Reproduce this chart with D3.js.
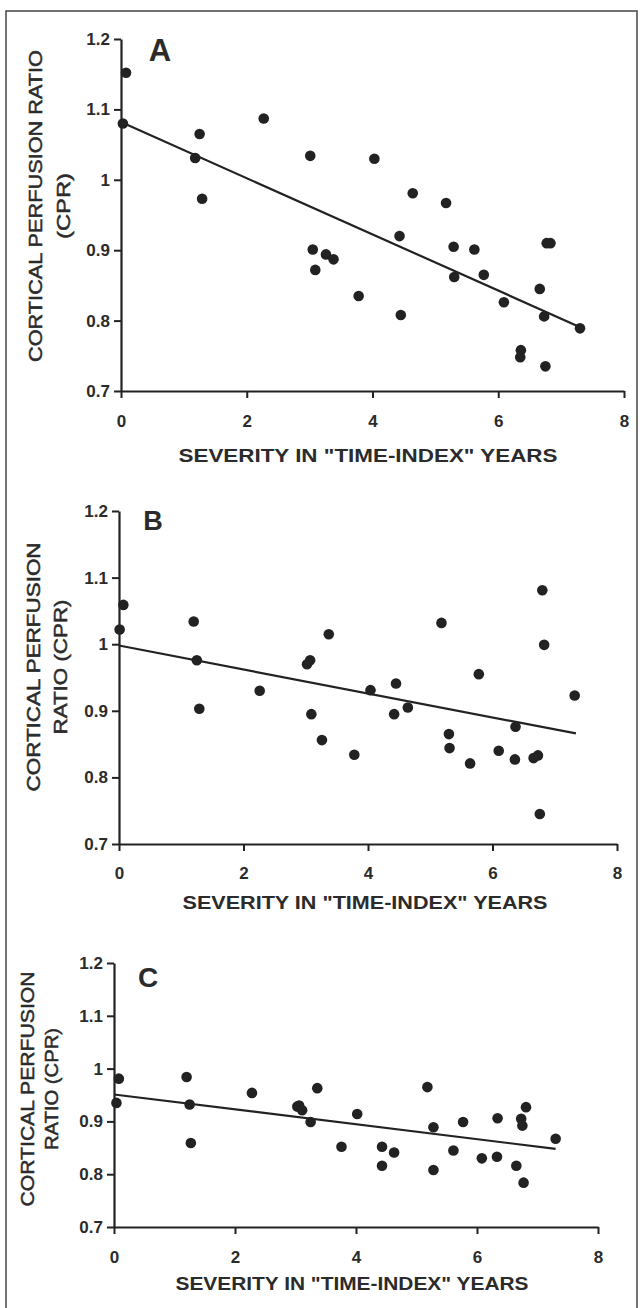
<!DOCTYPE html>
<html lang="en">
<meta charset="utf-8">
<head>
    <script src="https://d3js.org/d3.v7.min.js"></script>
    <style>
        body { margin: 0; background: #fff; }
        text { font-family: "Liberation Sans", Arial, sans-serif; fill: #2b2b2b; }
    </style>
</head>
<body>
<svg id="fig" width="642" height="1308"></svg>

<script>
// Values (severity in "time-index" years vs cortical perfusion ratio)
const severityA = [0.08, 0.03, 1.25, 1.18, 1.29, 2.27, 3.01, 3.05, 3.09, 3.26, 3.38, 3.78, 4.03, 4.43, 4.45, 4.64, 5.17, 5.29, 5.30, 5.62, 5.77, 6.09, 6.36, 6.35, 6.66, 6.73, 6.75, 6.77, 6.83, 7.30];
const cprA      = [1.152, 1.080, 1.065, 1.031, 0.973, 1.087, 1.034, 0.901, 0.872, 0.894, 0.887, 0.835, 1.030, 0.920, 0.808, 0.981, 0.967, 0.905, 0.862, 0.901, 0.865, 0.826, 0.758, 0.748, 0.845, 0.806, 0.735, 0.910, 0.910, 0.789];
const fitA      = [[0, 1.082], [7.32, 0.790]];

const severityB = [0.07, 0.01, 1.20, 1.25, 1.29, 2.26, 3.02, 3.07, 3.09, 3.26, 3.37, 3.78, 4.04, 4.45, 4.42, 4.64, 5.18, 5.30, 5.31, 5.64, 5.78, 6.10, 6.37, 6.36, 6.66, 6.73, 6.80, 6.76, 6.83, 7.32];
const cprB      = [1.059, 1.022, 1.034, 0.976, 0.903, 0.930, 0.970, 0.976, 0.895, 0.856, 1.015, 0.834, 0.931, 0.941, 0.895, 0.905, 1.032, 0.865, 0.844, 0.821, 0.955, 0.840, 0.876, 0.827, 0.829, 0.833, 1.081, 0.745, 0.999, 0.923];
const fitB      = [[0, 0.998], [7.34, 0.866]];

const severityC = [0.08, 0.04, 1.20, 1.25, 1.27, 2.28, 3.03, 3.06, 3.11, 3.25, 3.36, 3.76, 4.02, 4.43, 4.43, 4.63, 5.18, 5.28, 5.28, 5.61, 5.77, 6.08, 6.34, 6.33, 6.65, 6.73, 6.75, 6.81, 6.77, 7.30];
const cprC      = [0.981, 0.935, 0.984, 0.932, 0.859, 0.954, 0.928, 0.930, 0.921, 0.899, 0.963, 0.852, 0.914, 0.852, 0.816, 0.841, 0.965, 0.889, 0.808, 0.845, 0.899, 0.830, 0.906, 0.833, 0.816, 0.905, 0.892, 0.927, 0.784, 0.867];
const fitC      = [[0, 0.951], [7.30, 0.848]];

const xTicks = [0, 2, 4, 6, 8];
const yTicks = [0.7, 0.8, 0.9, 1, 1.1, 1.2];
const xTitle = 'SEVERITY IN "TIME-INDEX" YEARS';

const svg = d3.select("#fig");

// outer frame of the scanned figure
svg.append("path")
    .attr("d", "M6,1308 V11 H637 V1308")
    .attr("fill", "none")
    .attr("stroke", "#444")
    .attr("stroke-width", 1.5);

const panels = [
    { letter: "A", xs: severityA, ys: cprA, fit: fitA,
      x0: 121, x1: 624, yTop: 39, yBot: 391,
      letterPos: [160, 50, 31], yLines: ["CORTICAL PERFUSION RATIO", "(CPR)"],
      yLabelX: [35, 63], yLabelLen: [312, 66], yLabelY: 206,
      tickY: 421, titleY: 455, titleX: 368, titleLen: 379 },
    { letter: "B", xs: severityB, ys: cprB, fit: fitB,
      x0: 119, x1: 617, yTop: 511, yBot: 844,
      letterPos: [153, 521, 27], yLines: ["CORTICAL PERFUSION", "RATIO (CPR)"],
      yLabelX: [33, 60], yLabelLen: [249, 135], yLabelY: 667,
      tickY: 873, titleY: 902, titleX: 365, titleLen: 365 },
    { letter: "C", xs: severityC, ys: cprC, fit: fitC,
      x0: 114, x1: 598, yTop: 963, yBot: 1227,
      letterPos: [148, 977, 28], yLines: ["CORTICAL PERFUSION", "RATIO (CPR)"],
      yLabelX: [27, 51], yLabelLen: [235, 122], yLabelY: 1089,
      tickY: 1257, titleY: 1283, titleX: 352, titleLen: 353 }
];

panels.forEach(p => {
    const x = d3.scaleLinear().domain([0, 8]).range([p.x0, p.x1]);
    const y = d3.scaleLinear().domain([0.7, 1.2]).range([p.yBot, p.yTop]);
    const g = svg.append("g");

    // y axis
    const ya = g.append("g")
        .attr("transform", `translate(${p.x0},0)`)
        .call(d3.axisLeft(y).tickValues(yTicks).tickFormat(d3.format("")).tickSize(7).tickSizeOuter(0).tickPadding(4));
    // x axis
    const xa = g.append("g")
        .attr("transform", `translate(0,${p.yBot})`)
        .call(d3.axisBottom(x).tickValues(xTicks).tickSize(7).tickSizeOuter(0));

    [ya, xa].forEach(a => {
        a.select(".domain").attr("stroke", "#222").attr("stroke-width", 2.2);
        a.selectAll(".tick line").attr("stroke", "#222").attr("stroke-width", 2);
        a.selectAll(".tick text")
            .attr("fill", "#2b2b2b")
            .style("font-size", "17px")
            .style("font-weight", "bold");
    });
    xa.selectAll(".tick text")
        .attr("y", null).attr("dy", null)
        .attr("transform", `translate(0,${p.tickY - p.yBot})`)
        .attr("dominant-baseline", "central");

    // regression line
    g.append("path")
        .datum(p.fit)
        .attr("fill", "none")
        .attr("stroke", "#222")
        .attr("stroke-width", 2.2)
        .attr("d", d3.line().x(d => x(d[0])).y(d => y(d[1])));

    // points
    g.selectAll("circle")
        .data(p.xs.map((v, i) => [v, p.ys[i]]))
        .join("circle")
        .attr("cx", d => x(d[0]))
        .attr("cy", d => y(d[1]))
        .attr("r", 5.3)
        .attr("fill", "#222");

    // panel letter
    g.append("text")
        .attr("x", p.letterPos[0])
        .attr("y", p.letterPos[1])
        .attr("text-anchor", "middle")
        .attr("dominant-baseline", "central")
        .style("font-size", p.letterPos[2] + "px")
        .style("font-weight", "bold")
        .text(p.letter);

    // y title, two lines (scan looks a bit heavier than regular)
    p.yLines.forEach((t, i) => {
        g.append("text")
            .attr("transform", `translate(${p.yLabelX[i]},${p.yLabelY}) rotate(-90)`)
            .attr("text-anchor", "middle")
            .attr("dominant-baseline", "central")
            .attr("textLength", p.yLabelLen[i])
            .attr("lengthAdjust", "spacingAndGlyphs")
            .attr("stroke", "#2b2b2b")
            .attr("stroke-width", 0.5)
            .style("font-size", "19px")
            .text(t);
    });

    // x title
    g.append("text")
        .attr("x", p.titleX)
        .attr("y", p.titleY)
        .attr("text-anchor", "middle")
        .attr("dominant-baseline", "central")
        .attr("textLength", p.titleLen)
        .attr("lengthAdjust", "spacingAndGlyphs")
        .style("font-size", "19px")
        .style("font-weight", "bold")
        .text(xTitle);
});
</script>
</body>
</html>
